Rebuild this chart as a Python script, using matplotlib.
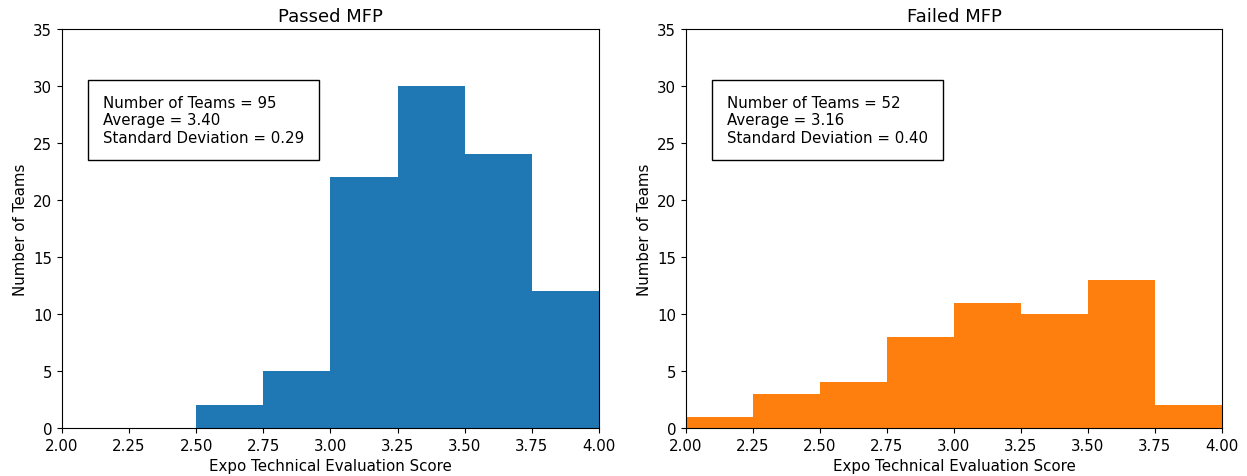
import numpy as np
import matplotlib
matplotlib.use('Agg')
import matplotlib.pyplot as plt

plt.rcParams['font.size'] = 10.8

# histogram data
bin_edges = [2.0, 2.25, 2.5, 2.75, 3.0, 3.25, 3.5, 3.75, 4.0]
passed_counts = [0, 0, 2, 5, 22, 30, 24, 12]
failed_counts = [1, 3, 4, 8, 11, 10, 13, 2]

passed_stats = ['Number of Teams = 95', 'Average = 3.40', 'Standard Deviation = 0.29']
failed_stats = ['Number of Teams = 52', 'Average = 3.16', 'Standard Deviation = 0.40']

titles = ['Passed MFP', 'Failed MFP']
colors = ['#1f77b4', '#ff7f0e']
xticks = [2.00, 2.25, 2.50, 2.75, 3.00, 3.25, 3.50, 3.75, 4.00]
yticks = [0, 5, 10, 15, 20, 25, 30, 35]

fig = plt.figure(figsize=(12.47, 4.77), dpi=100)
ax1 = fig.add_axes([0.0497, 0.1006, 0.4306, 0.8365])
ax2 = fig.add_axes([0.5501, 0.1006, 0.4298, 0.8365])

for ax, counts, stats, title, color in zip([ax1, ax2],
                                           [passed_counts, failed_counts],
                                           [passed_stats, failed_stats],
                                           titles, colors):
    ax.hist(bin_edges[:-1], bins=bin_edges, weights=counts, color=color)
    ax.set_xlim(2.0, 4.0)
    ax.set_ylim(0, 35)
    ax.set_xticks(xticks)
    ax.set_xticklabels(['%.2f' % t for t in xticks])
    ax.set_yticks(yticks)
    ax.set_title(title, fontsize=13)
    ax.set_xlabel('Expo Technical Evaluation Score')
    ax.set_ylabel('Number of Teams')
    ax.text(0.077, 0.835, '\n'.join(stats), transform=ax.transAxes,
            va='top', ha='left', fontsize=10.8,
            bbox=dict(boxstyle='square,pad=1.0', fc='white', ec='black'))

plt.savefig('out.png', dpi=100)
